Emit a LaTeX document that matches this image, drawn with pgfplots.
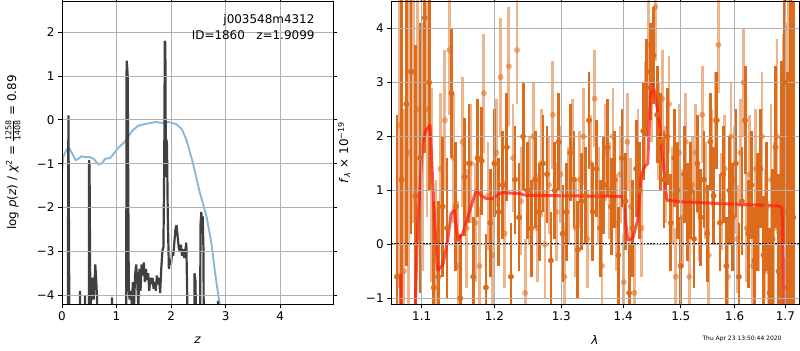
\documentclass[border=0pt]{standalone}
\usepackage{pgfplots}
\pgfplotsset{compat=1.18}
\usepackage{pgfplotstable}
\usepackage{amsmath}
\usepackage{fontspec}
\setmainfont{DejaVu Sans}
\definecolor{pzdark}{RGB}{64,64,64}
\definecolor{pzblue}{RGB}{137,183,218}
\definecolor{specor}{RGB}{220,108,28}
\definecolor{modred}{RGB}{255,30,20}

\pgfplotstableread{
z y
0.000 -1.21
0.025 -0.83
0.086 -0.68
0.130 -0.64
0.180 -0.75
0.250 -0.92
0.300 -0.89
0.360 -0.83
0.420 -0.85
0.510 -0.85
0.580 -0.89
0.640 -0.98
0.680 -1.02
0.740 -0.98
0.790 -0.89
0.880 -0.87
0.940 -0.79
1.030 -0.64
1.160 -0.49
1.280 -0.26
1.400 -0.13
1.550 -0.09
1.710 -0.05
1.830 -0.07
1.950 -0.05
2.100 -0.10
2.200 -0.22
2.280 -0.45
2.400 -0.98
2.530 -1.67
2.650 -2.20
2.740 -2.81
2.800 -3.42
2.860 -3.95
2.900 -4.25
}\bluedata

\pgfplotstableread{
z y
0.000 -9
0.105 -9
0.112 -2.0
0.118 0.1
0.124 -1.5
0.128 -2.7
0.135 -4.6
0.140 -9
0.320 -9
0.330 -3.9
0.345 -9
0.410 -9
0.420 -4.0
0.430 -9
0.490 -9
0.497 -0.92
0.505 -1.05
0.520 -4.3
0.535 -4.1
0.550 -3.9
0.565 -3.6
0.580 -4.1
0.595 -3.75
0.610 -3.3
0.625 -3.6
0.640 -4.0
0.650 -4.4
0.660 -9
0.900 -9
0.915 -4.05
0.930 -9
1.170 -9
1.185 1.35
1.195 1.2
1.205 1.0
1.215 -1.5
1.225 -3.9
1.240 -4.1
1.260 -3.9
1.280 -4.2
1.300 -3.7
1.320 -4.3
1.340 -3.55
1.360 -3.3
1.380 -3.7
1.400 -4.3
1.420 -3.4
1.440 -3.9
1.460 -3.3
1.480 -3.55
1.500 -3.25
1.520 -3.7
1.540 -3.4
1.560 -3.65
1.580 -3.5
1.600 -3.9
1.620 -3.6
1.640 -3.75
1.660 -3.6
1.680 -3.85
1.700 -3.7
1.720 -3.9
1.740 -3.55
1.760 -3.75
1.780 -3.6
1.800 -3.95
1.820 -3.4
1.840 -3.0
1.860 -2.9
1.875 -1.0
1.885 1.8
1.895 1.75
1.905 -1.3
1.915 -0.45
1.925 -0.55
1.940 -2.2
1.960 -3.4
1.980 -3.2
2.000 -3.3
2.020 -3.0
2.040 -3.1
2.060 -2.8
2.080 -2.5
2.100 -2.4
2.120 -2.65
2.140 -2.9
2.160 -3.0
2.180 -2.85
2.200 -3.1
2.220 -2.95
2.240 -3.15
2.260 -3.0
2.280 -2.8
2.300 -4.3
2.320 -9
2.410 -9
2.430 -3.5
2.450 -3.7
2.470 -9
2.520 -9
2.540 -2.4
2.555 -2.1
2.570 -2.5
2.580 -2.2
2.595 -3.0
2.610 -9
2.850 -9
2.860 -4.13
2.875 -9
}\pzdata

\pgfplotstableread{
x y e
1.068 -0.6 3.0
1.074 1.2 3.5
1.080 2.6 3.0
1.086 3.2 3.0
1.092 0.9 2.8
1.098 1.6 2.5
1.104 4.2 2.5
1.110 3.0 2.0
1.116 -0.8 1.6
1.122 -0.6 1.4
1.128 0.7 1.3
1.134 0.3 1.3
1.140 2.8 1.2
1.146 0.7 1.2
1.152 -1.0 1.2
1.158 1.25 1.1
1.164 1.5 1.1
1.170 -0.6 1.1
1.176 1.6 1.1
1.182 1.55 1.0
1.188 -0.8 1.0
1.194 0.4 1.0
1.200 1.5 1.0
1.206 0.6 1.0
1.212 1.1 1.0
1.218 1.8 1.0
1.224 -0.6 1.0
1.230 1.2 1.0
1.236 0.5 1.0
1.242 2.0 1.0
1.248 1.0 0.9
1.254 0.3 0.9
1.260 1.2 0.9
1.266 0.6 0.9
1.272 1.5 0.9
1.278 1.3 0.9
1.284 -0.3 0.9
1.290 1.0 0.9
1.296 1.9 0.9
1.302 0.2 0.9
1.308 0.6 0.9
1.314 1.7 0.9
1.320 1.2 0.9
1.326 -0.1 0.9
1.332 0.8 0.9
1.338 0.9 0.9
1.344 2.3 0.9
1.350 0.6 0.9
1.356 1.4 0.9
1.362 0.3 0.9
1.368 1.1 0.9
1.374 1.8 0.9
1.380 0.7 0.9
1.386 1.2 0.9
1.392 -0.2 0.9
1.398 1.6 0.9
1.404 0.8 0.9
1.410 -0.9 0.9
1.416 0.3 0.9
1.422 1.4 0.9
1.428 1.0 0.9
1.434 2.1 0.9
1.440 2.9 0.9
1.446 3.2 0.9
1.452 3.5 0.9
1.458 2.4 0.9
1.464 1.9 0.9
1.470 1.2 0.9
1.476 2.0 0.9
1.482 0.4 0.9
1.488 1.6 0.9
1.494 1.0 0.9
1.500 -0.4 0.9
1.506 1.3 0.9
1.512 0.6 0.9
1.518 1.0 0.9
1.524 0.1 0.9
1.530 1.5 0.9
1.536 0.5 0.9
1.542 1.2 0.9
1.548 0.2 0.9
1.554 1.9 0.9
1.560 0.9 0.9
1.566 2.3 0.9
1.572 0.4 0.9
1.578 1.3 0.9
1.584 -0.4 0.9
1.590 1.0 1.0
1.596 0.5 1.0
1.602 1.5 1.0
1.608 -0.6 1.0
1.614 0.8 1.0
1.620 2.3 1.0
1.626 0.2 1.0
1.632 1.1 1.0
1.638 -0.3 1.0
1.644 0.6 1.1
1.650 1.4 1.1
1.656 -0.2 1.1
1.662 0.7 1.2
1.668 -0.9 1.2
1.674 0.1 1.3
1.680 1.8 1.5
1.686 -0.5 1.8
1.692 0.9 2.5
1.698 3.0 3.0
1.704 -0.8 4.0
1.710 2.0 4.0
1.716 0.5 4.0
}\darkspec

\pgfplotstableread{
x y e
1.071 2.2 3.0
1.077 -0.5 3.0
1.083 1.7 3.0
1.089 3.2 2.8
1.095 2.5 2.5
1.101 1.8 2.3
1.107 2.5 2.0
1.113 1.1 1.8
1.119 -0.3 1.5
1.125 1.4 1.4
1.131 2.3 1.3
1.137 3.6 1.2
1.143 1.6 1.2
1.149 -0.4 1.2
1.155 1.9 1.2
1.161 0.3 1.1
1.167 1.5 1.1
1.173 0.4 1.1
1.179 -0.4 1.1
1.185 2.8 1.1
1.191 0.9 1.0
1.197 -0.2 1.1
1.203 1.7 1.0
1.209 3.1 1.1
1.215 0.2 1.0
1.221 3.3 1.1
1.227 1.6 1.0
1.233 3.6 1.0
1.239 0.8 1.0
1.245 -0.9 1.0
1.251 1.0 1.0
1.257 2.0 1.0
1.263 0.3 1.0
1.269 1.5 1.0
1.275 0.0 1.0
1.281 1.1 0.9
1.287 2.4 1.0
1.293 0.6 0.9
1.299 1.3 0.9
1.305 -0.6 1.0
1.311 0.9 0.9
1.317 1.8 0.9
1.323 0.3 0.9
1.329 1.2 0.9
1.335 2.0 0.9
1.341 0.1 0.9
1.347 1.5 0.9
1.353 2.7 0.9
1.359 0.9 0.9
1.365 -0.4 0.9
1.371 1.7 0.9
1.377 1.0 0.9
1.383 2.0 0.9
1.389 0.4 0.9
1.395 1.3 0.9
1.401 -0.7 0.9
1.407 1.9 0.9
1.413 0.7 0.9
1.419 -0.9 0.9
1.425 1.6 0.9
1.431 0.3 0.9
1.437 2.4 1.0
1.443 3.7 1.0
1.449 2.9 1.0
1.455 4.4 1.0
1.461 2.1 0.9
1.467 2.7 0.9
1.473 1.3 0.9
1.479 2.6 0.9
1.485 0.9 0.9
1.491 -0.6 0.9
1.497 1.7 0.9
1.503 0.5 0.9
1.509 1.9 0.9
1.515 -0.6 0.9
1.521 1.1 0.9
1.527 1.7 0.9
1.533 0.6 0.9
1.539 2.4 0.9
1.545 1.0 0.9
1.551 -0.2 0.9
1.557 1.6 0.9
1.563 2.3 0.9
1.569 3.7 0.9
1.575 0.8 0.9
1.581 1.4 1.0
1.587 -0.6 1.0
1.593 2.0 1.0
1.599 1.2 1.0
1.605 0.1 1.0
1.611 1.7 1.0
1.617 3.0 1.0
1.623 0.3 1.0
1.629 1.3 1.1
1.635 -0.4 1.1
1.641 1.4 1.1
1.647 0.6 1.1
1.653 2.0 1.2
1.659 0.2 1.2
1.665 -0.5 1.3
1.671 1.2 1.4
1.677 0.3 1.6
1.683 2.0 1.8
1.689 -0.2 2.2
1.695 1.1 2.8
1.701 0.6 3.5
1.707 2.5 4.0
1.713 -0.7 4.0
}\lightspec

\pgfplotstableread{
x y
1.0850 -3.0
1.0917 -1.1
1.0947 0.33
1.1014 1.87
1.1058 2.12
1.1111 2.21
1.1147 1.13
1.1182 0.20
1.1214 -0.48
1.1281 -0.38
1.1349 0.08
1.1395 0.57
1.1440 0.64
1.1486 0.08
1.1555 0.20
1.1625 0.51
1.1741 1.00
1.1811 0.91
1.1882 0.85
1.1978 0.85
1.2073 0.94
1.2121 0.96
1.2366 0.94
1.2465 0.91
1.3022 0.90
1.3937 0.89
1.3993 0.88
1.4077 0.08
1.4161 0.11
1.4246 0.45
1.4303 1.25
1.4360 1.44
1.4418 1.50
1.4459 2.73
1.4505 2.98
1.4563 2.67
1.4622 2.24
1.4680 1.56
1.4751 0.82
1.4977 0.79
1.5902 0.75
1.6878 0.71
1.6932 0.67
1.6979 -1.1
1.6990 -3.0
}\model

\begin{document}
\begin{tikzpicture}[x=1bp,y=1bp]
\path[use as bounding box] (0,0) rectangle (800,350);
\pgfplotsset{
  every axis/.append style={
    scale only axis,
    axis on top,
    axis line style={line width=0.9bp},
    grid=major,
    major grid style={line width=0.9bp, color=black!31},
    tick align=outside,
    major tick length=4bp,
    tick style={line width=0.9bp, black},
    tick label style={font=\fontsize{12}{14}\selectfont},
  }
}
\begin{axis}[
  at={(62bp,46bp)}, anchor=south west,
  width=271bp, height=303bp,
  xmin=0, xmax=4.97, ymin=-4.2, ymax=2.71,
  xtick={0,1,2,3,4}, xticklabels={0,1,2,3,4},
  ytick={-4,-3,-2,-1,0,1,2},
  yticklabels={−4,−3,−2,−1,0,1,2},
]
\addplot[pzblue, line width=1.9bp, line join=round] table[x=z,y=y] {\bluedata};
\addplot[pzdark, line width=2.2bp, line join=miter, miter limit=2] table[x=z,y=y] {\pzdata};
\end{axis}

\begin{axis}[
  at={(391bp,46bp)}, anchor=south west,
  width=408bp, height=303bp,
  xmode=log, log basis x=10,
  xmin=1.0604, xmax=1.7279, ymin=-1.105, ymax=4.51,
  xtick={1.1,1.2,1.3,1.4,1.5,1.6,1.7},
  xticklabels={1.1,1.2,1.3,1.4,1.5,1.6,1.7},
  xminorticks=false,
  ytick={-1,0,1,2,3,4},
  yticklabels={−1,0,1,2,3,4},
]
\addplot[only marks, mark=*, mark size=2.7bp, color=specor, opacity=0.5,
  mark options={draw=none, fill=specor},
  error bars/.cd, y dir=both, y explicit, error mark=none,
  error bar style={line width=2.8bp, color=specor, opacity=0.5}]
  table[x=x, y=y, y error=e] {\lightspec};
\addplot[only marks, mark=*, mark size=2.7bp, color=specor,
  mark options={draw=none, fill=specor},
  error bars/.cd, y dir=both, y explicit, error mark=none,
  error bar style={line width=2.8bp, color=specor}]
  table[x=x, y=y, y error=e] {\darkspec};
\addplot[modred, opacity=0.75, line width=3bp, line join=round] table[x=x,y=y] {\model};
\addplot[modred, opacity=0.75, line width=3bp] coordinates {(1.0725,-0.55) (1.0735,-3)};
\addplot[black, line width=2.2bp, dash pattern=on 1.6bp off 1.6bp] coordinates {(1.0604,0) (1.7279,0)};
\end{axis}

\node[anchor=east, font=\fontsize{12}{14}\selectfont] at (318,330) {j003548m4312};
\node[anchor=east, font=\fontsize{12}{14}\selectfont] at (318,315) {ID=1860\ \ \ z=1.9099};
\node[rotate=90, font=\fontsize{12}{14}\selectfont] at (13,197.5)
  {log \textit{p}(\textit{z}) / \textit{χ}\textsuperscript{2} = $\frac{\text{1258}}{\text{1408}}$ = 0.89};
\node[rotate=90, font=\fontsize{12}{14}\selectfont] at (344,197.5)
  {\textit{f}\textsubscript{\textit{λ}} × 10\textsuperscript{−19}};
\node[font=\fontsize{12}{14}\selectfont] at (197.5,10) {\textit{z}};
\node[font=\fontsize{12}{14}\selectfont] at (595,10) {\textit{λ}};
\node[font=\fontsize{6}{7}\selectfont] at (742,11) {Thu Apr 23 13:50:44 2020};
\end{tikzpicture}
\end{document}
